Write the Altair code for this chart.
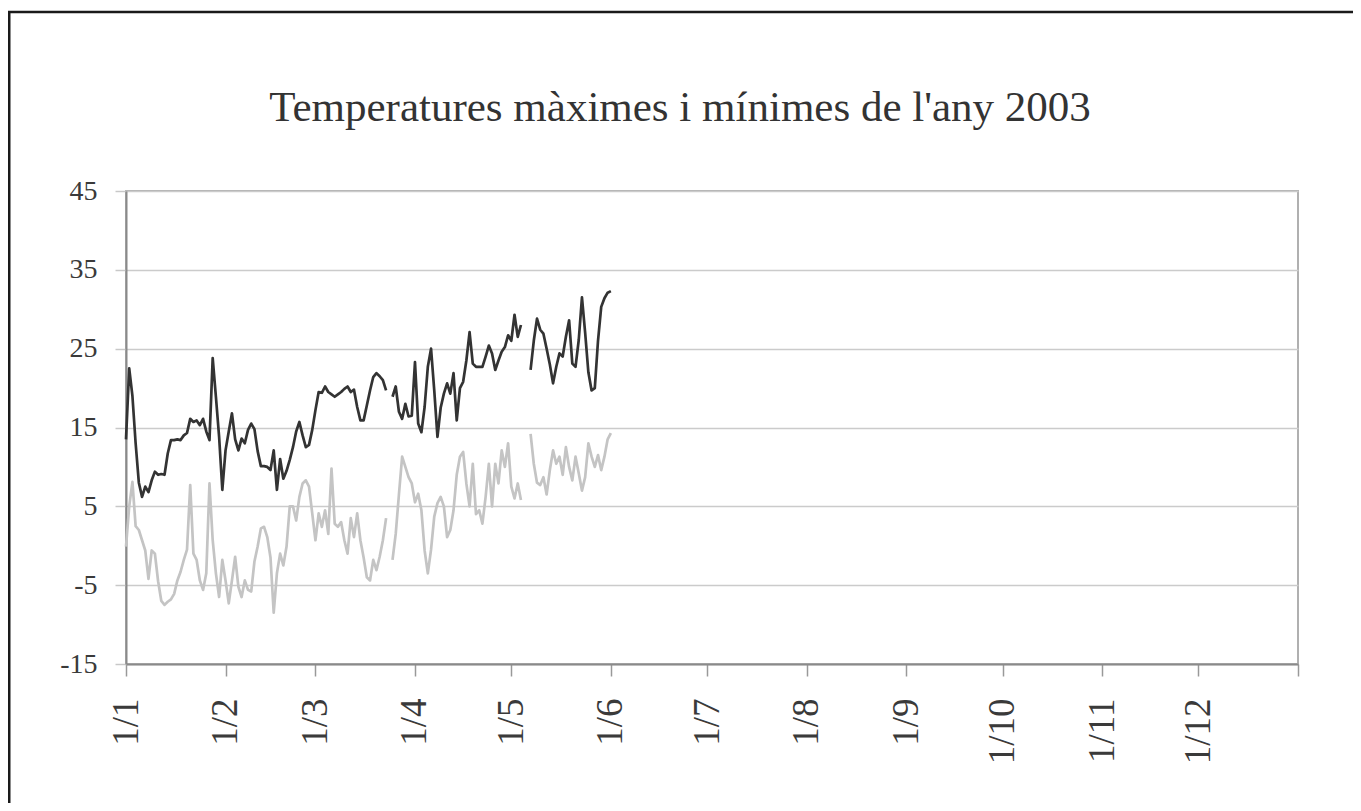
import altair as alt
import pandas as pd

TITLE = "Temperatures màximes i mínimes de l'any 2003"
START = "2003-01-01"

# Daily maximum temperatures from 1 Jan 2003 (None = missing day)
max_temp = [
    13.5, 22.5, 19.0, 13.0, 8.0, 6.2, 7.5, 6.8, 8.3, 9.4,
    9.0, 9.1, 9.0, 11.7, 13.4, 13.4, 13.5, 13.4, 14.0, 14.3,
    16.1, 15.7, 15.9, 15.3, 16.1, 14.5, 13.4, 23.8, 18.9, 13.8,
    7.1, 12.1, 14.5, 16.8, 13.5, 12.1, 13.6, 13.0, 14.7, 15.5,
    14.8, 12.0, 10.1, 10.1, 10.0, 9.6, 12.1, 7.1, 11.0, 8.5,
    9.5, 10.9, 12.5, 14.5, 15.7, 14.0, 12.5, 12.8, 14.7, 17.2,
    19.5, 19.4, 20.2, 19.5, 19.2, 18.9, 19.2, 19.5, 19.9, 20.2,
    19.5, 19.8, 17.6, 15.9, 15.9, 17.8, 19.7, 21.4, 21.9, 21.5,
    21.0, 19.7, None, 18.9, 20.2, 17.0, 16.1, 18.0, 16.4, 16.5,
    23.3, 15.5, 14.4, 17.6, 22.7, 25.0, 19.7, 13.8, 17.5, 19.3,
    20.6, 19.3, 21.9, 15.9, 20.0, 20.8, 23.5, 27.1, 23.1, 22.7,
    22.7, 22.7, 24.0, 25.4, 24.4, 22.3, 23.5, 24.6, 25.2, 26.7,
    26.0, 29.3, 26.5, 28.0, None, None, 22.3, 26.0, 28.8, 27.4,
    26.9, 25.0, 23.0, 20.6, 22.7, 24.4, 24.0, 26.5, 28.6, 23.1,
    22.7, 26.1, 31.5, 27.0, 22.0, 19.7, 20.0, 26.0, 30.3, 31.4,
    32.1, 32.3,
]

# Daily minimum temperatures from 1 Jan 2003 (None = missing day)
min_temp = [
    -0.1, 5.0, 8.1, 2.5, 2.0, 0.7, -0.6, -4.2, -0.6, -1.0,
    -4.5, -7.0, -7.5, -7.1, -6.8, -6.1, -4.4, -3.3, -1.8, -0.5,
    7.7, -1.0, -1.8, -4.4, -5.6, -3.5, 7.9, 0.7, -3.5, -6.5,
    -1.8, -4.4, -7.3, -4.4, -1.4, -5.2, -6.5, -4.4, -5.6, -5.8,
    -2.0, -0.1, 2.2, 2.4, 1.1, -1.5, -8.5, -3.5, -1.0, -2.5,
    -0.1, 5.0, 5.0, 3.2, 6.2, 7.9, 8.3, 7.5, 4.1, 0.7,
    4.1, 2.4, 4.5, 1.5, 9.8, 2.8, 2.4, 3.0, 0.7, -1.0,
    3.5, 1.1, 4.1, 0.7, -1.5, -4.0, -4.4, -1.8, -3.1, -1.4,
    0.7, 3.5, None, -1.8, 1.5, 6.5, 11.3, 10.0, 8.7, 7.9,
    5.5, 6.6, 4.5, -0.6, -3.5, -0.5, 3.7, 5.4, 6.2, 5.0,
    1.1, 2.0, 4.5, 9.0, 11.3, 11.9, 7.9, 5.0, 10.4, 4.0,
    4.5, 2.8, 6.2, 10.4, 5.0, 10.4, 7.9, 12.1, 10.0, 13.0,
    7.5, 6.0, 7.9, 5.8, None, None, 14.2, 10.4, 8.0, 7.7,
    8.7, 6.5, 9.6, 12.1, 10.4, 11.3, 9.0, 12.5, 10.0, 8.3,
    11.3, 9.2, 7.0, 8.7, 13.0, 11.3, 10.0, 11.5, 9.6, 11.3,
    13.5, 14.3,
]

y_ticks = [-15, -5, 5, 15, 25, 35, 45]
series_names = ["Màxima", "Mínima"]
series_colors = ["#333333", "#c4c4c4"]

dates = pd.date_range(START, periods=len(max_temp), freq="D")

rows = []
for name, vals in zip(series_names, [max_temp, min_temp]):
    seg = 0
    for d, v in zip(dates, vals):
        if v is None:
            seg += 1
            continue
        rows.append({"date": d, "temp": v, "serie": name, "seg": f"{name}-{seg}"})
df = pd.DataFrame(rows)

month_ticks = [alt.DateTime(year=2003, month=m, date=1) for m in range(1, 13)]
month_ticks.append(alt.DateTime(year=2004, month=1, date=1))

W, H = 1172, 473
PAD = {"left": 118, "top": 183, "right": 55, "bottom": 139}
SERIF = "Liberation Serif"

lines = alt.Chart(df).mark_line(strokeWidth=2.7, strokeJoin="round").encode(
    x=alt.X(
        "date:T",
        scale=alt.Scale(domain=[alt.DateTime(year=2003, month=1, date=1),
                                alt.DateTime(year=2004, month=1, date=1)]),
        axis=alt.Axis(
            values=month_ticks,
            labelExpr="year(datum.value) > 2003 ? '' : timeFormat(datum.value, '%-d/%-m')",
            labelAngle=-90,
            labelFont=SERIF,
            labelFontSize=37,
            labelColor="#3a3a3a",
            labelPadding=22,
            tickSize=12,
            tickColor="#999999",
            tickWidth=1.5,
            domainColor="#8a8a8a",
            domainWidth=2,
            grid=False,
            title=None,
        ),
    ),
    y=alt.Y(
        "temp:Q",
        scale=alt.Scale(domain=[-15, 45], nice=False, zero=False),
        axis=alt.Axis(
            values=y_ticks,
            labelExpr="datum.value + ''",
            labelFont=SERIF,
            labelFontSize=28,
            labelColor="#3a3a3a",
            labelPadding=18,
            tickSize=11,
            tickColor="#c8c8c8",
            tickWidth=1.5,
            domainColor="#8a8a8a",
            domainWidth=2,
            gridColor="#cbcbcb",
            gridWidth=1.5,
            title=None,
        ),
    ),
    color=alt.Color("serie:N", scale=alt.Scale(domain=series_names, range=series_colors), legend=None),
    detail="seg:N",
)

one = alt.Data(values=[{}])

title = alt.Chart(one).mark_text(
    text=TITLE, font=SERIF, fontSize=43, color="#333333", align="center", baseline="alphabetic"
).encode(x=alt.value(554), y=alt.value(-70))

frame_left = alt.Chart(one).mark_rule(color="#1a1a1a", strokeWidth=3).encode(
    x=alt.value(-117), y=alt.value(-180), y2=alt.value(612)
)
frame_top = alt.Chart(one).mark_rule(color="#1a1a1a", strokeWidth=2.5).encode(
    x=alt.value(-118.5), x2=alt.value(1227), y=alt.value(-179)
)

chart = alt.layer(lines, title, frame_left, frame_top).properties(
    width=W,
    height=H,
    autosize=alt.AutoSizeParams(type="none"),
    padding=PAD,
    background="white",
).configure_view(stroke="#b0b0b0", strokeWidth=2)

chart.save("out.html", embed_options={"renderer": "svg", "actions": False})
